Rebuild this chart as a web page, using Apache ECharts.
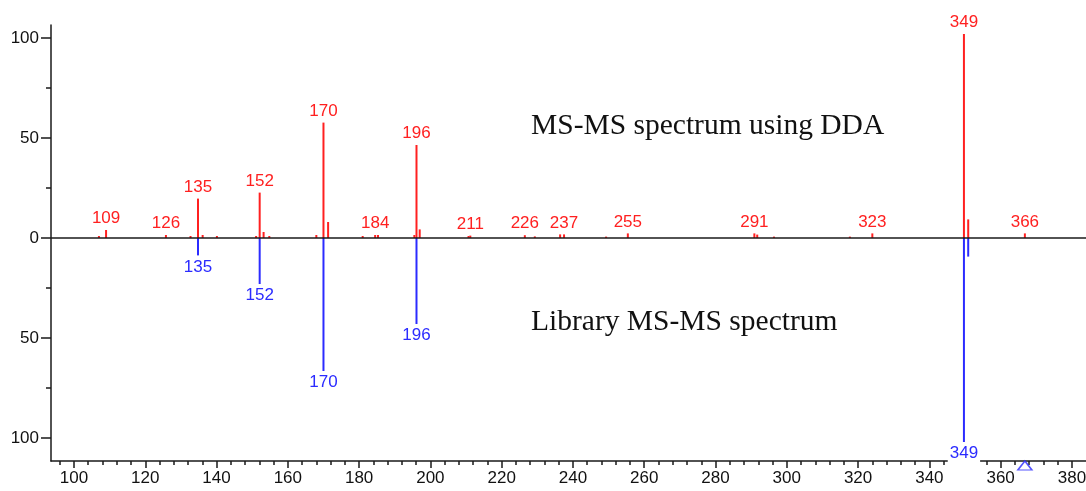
<!DOCTYPE html>
<html>
<head>
<meta charset="utf-8">
<script src="https://cdn.jsdelivr.net/npm/echarts@6/dist/echarts.min.js"></script>
<style>
html,body{margin:0;padding:0;background:#fff;}
#chart{width:1086px;height:491px;}
</style>
</head>
<body>
<div id="chart"></div>
<script>
// ---- data ----
const redMz     = [107.0, 109.0, 125.8, 132.7, 134.8, 136.1, 140.1, 151.1, 152.1, 153.2, 154.8, 168.0, 170.0, 171.3, 181.0, 184.5, 185.3, 195.5, 196.1, 197.0, 210.7, 211.2, 226.5, 229.3, 236.4, 237.5, 249.3, 255.4, 290.9, 291.7, 296.4, 317.7, 324.0, 349.7, 350.9, 366.8];
const redInt    = [1.0, 4.0, 1.5, 1.0, 19.7, 1.5, 1.0, 1.0, 22.7, 3.0, 1.0, 1.5, 57.7, 8.0, 1.0, 1.5, 1.5, 1.5, 46.5, 4.3, 1.0, 1.2, 1.4, 0.8, 1.8, 1.8, 0.7, 2.3, 2.3, 1.7, 0.7, 0.7, 2.3, 102.0, 9.3, 2.3];
const redLabels = ['', '109', '126', '', '135', '', '', '', '152', '', '', '', '170', '', '', '184', '', '', '196', '', '', '211', '226', '', '', '237', '', '255', '291', '', '', '', '323', '349', '', '366'];

const blueMz     = [134.8, 152.1, 170.0, 196.1, 349.7, 350.9];
const blueInt    = [-8.7, -23.0, -66.5, -43.0, -102.0, -9.3];
const blueLabels = ['135', '152', '170', '196', '349', ''];

const precursorMz = [366.8];

const xMajorTicks = [100,120,140,160,180,200,220,240,260,280,300,320,340,360,380];
const yMajorTicks = [-100,-50,0,50,100];
const yMinorTicks = [-75,-25,25,75];

const topText = 'MS-MS spectrum using DDA';
const bottomText = 'Library MS-MS spectrum';

// ---- chart ----
const RED = '#ff2020';
const BLUE = '#2b2bff';
const AX = '#1a1a1a';
const xMin = 93.55, xMax = 383.95, yMin = -111.5, yMax = 106.5;
const xMinorTicks = [];
for (let v = 96; v <= 383; v += 4) { if (v % 20 !== 0) xMinorTicks.push(v); }

const lblFont = {fontFamily: 'Liberation Sans', fontSize: 17};

const chart = echarts.init(document.getElementById('chart'), null, {renderer: 'canvas'});
chart.setOption({
  animation: false,
  backgroundColor: '#ffffff',
  grid: {left: 51, right: 0, top: 25, bottom: 30, containLabel: false, outerBoundsMode: 'none'},
  xAxis: [{
    type: 'value', min: xMin, max: xMax, position: 'bottom',
    axisLine: {show: true, onZero: false, lineStyle: {color: AX, width: 1.5}},
    axisTick: {show: true, customValues: xMajorTicks, length: 7, lineStyle: {color: AX, width: 1.5}},
    axisLabel: {show: true, customValues: xMajorTicks, margin: 9, color: '#111', ...lblFont},
    splitLine: {show: false}
  }, {
    type: 'value', min: xMin, max: xMax, position: 'bottom',
    axisLine: {show: false, onZero: false},
    axisTick: {show: true, customValues: xMinorTicks, length: 4, lineStyle: {color: AX, width: 1.5}},
    axisLabel: {show: false},
    splitLine: {show: false}
  }],
  yAxis: [{
    type: 'value', min: yMin, max: yMax, position: 'left',
    axisLine: {show: true, onZero: false, lineStyle: {color: AX, width: 1.5}},
    axisTick: {show: true, customValues: yMajorTicks, length: 10, lineStyle: {color: AX, width: 1.5}},
    axisLabel: {show: true, customValues: yMajorTicks, margin: 12, color: '#111', ...lblFont,
      formatter: v => String(Math.abs(v))},
    splitLine: {show: false}
  }, {
    type: 'value', min: yMin, max: yMax, position: 'left',
    axisLine: {show: false, onZero: false},
    axisTick: {show: true, customValues: yMinorTicks, length: 5, lineStyle: {color: AX, width: 1.5}},
    axisLabel: {show: false},
    splitLine: {show: false}
  }],
  series: [{
    type: 'bar', name: 'DDA', xAxisIndex: 0, yAxisIndex: 0,
    barWidth: 2, barGap: '-100%',
    itemStyle: {color: RED},
    data: redMz.map((m, i) => ({
      value: [m, redInt[i]],
      label: {show: !!redLabels[i], formatter: redLabels[i]}
    })),
    label: {position: 'top', distance: 3, color: RED, ...lblFont},
    emphasis: {disabled: true},
    markLine: {
      silent: true, symbol: ['none', 'none'],
      label: {show: false},
      lineStyle: {color: AX, width: 1.5, type: 'solid'},
      data: [{yAxis: 0}]
    },
    z: 3
  }, {
    type: 'bar', name: 'Library', xAxisIndex: 0, yAxisIndex: 0,
    barWidth: 2, barGap: '-100%',
    itemStyle: {color: BLUE},
    data: blueMz.map((m, i) => ({
      value: [m, blueInt[i]],
      label: {show: !!blueLabels[i], formatter: blueLabels[i]}
    })),
    label: {position: 'bottom', distance: 3, color: BLUE, ...lblFont,
      backgroundColor: '#ffffff', padding: [0, 2, 4, 2]},
    emphasis: {disabled: true},
    z: 3
  }, {
    type: 'scatter', xAxisIndex: 0, yAxisIndex: 0, clip: false,
    data: precursorMz.map(m => [m, yMin]),
    symbol: 'triangle', symbolSize: [14, 9], symbolOffset: [0, 4.5],
    itemStyle: {color: '#ffffff', borderColor: BLUE, borderWidth: 1.5},
    emphasis: {disabled: true},
    z: 5
  }],
  graphic: [{
    type: 'text', left: 531, top: 111, z: 10,
    style: {text: topText, fontFamily: 'Liberation Serif', fontSize: 29.5, fill: '#111'}
  }, {
    type: 'text', left: 531, top: 307, z: 10,
    style: {text: bottomText, fontFamily: 'Liberation Serif', fontSize: 29.5, fill: '#111'}
  }]
});
</script>
</body>
</html>
